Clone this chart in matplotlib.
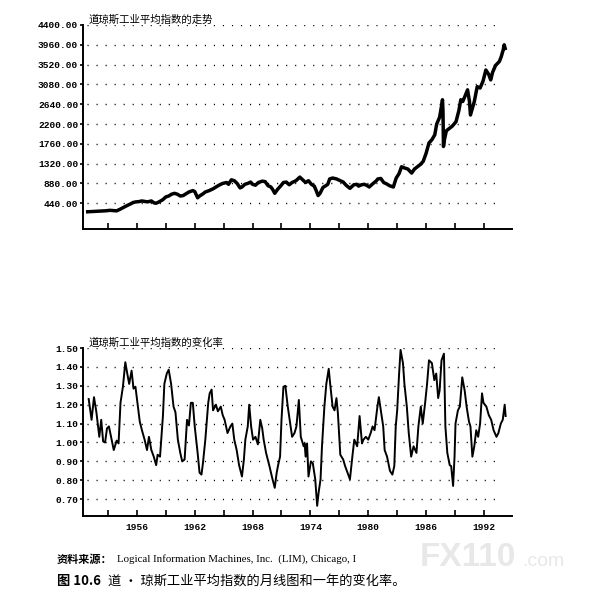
import matplotlib.pyplot as plt

# fonts: CJK first, DejaVu as fallback
plt.rcParams['font.family'] = ['Noto Sans CJK SC', 'DejaVu Sans']

# data - Dow Jones Industrial Average
dji_years = [1950.9, 1951.3, 1951.8, 1952.3, 1952.8, 1953.2, 1953.6, 1953.9, 1954.2, 1954.6,
             1955.0, 1955.3, 1955.6, 1955.9, 1956.2, 1956.5, 1956.8, 1957.1, 1957.5, 1957.8,
             1958.0, 1958.3, 1958.7, 1959.0, 1959.3, 1959.6, 1959.9, 1960.2, 1960.5, 1960.8,
             1961.1, 1961.4, 1961.8, 1962.0, 1962.3, 1962.5, 1962.8, 1963.1, 1963.5, 1963.9,
             1964.2, 1964.6, 1964.9, 1965.3, 1965.5, 1965.8, 1966.1, 1966.4, 1966.7, 1966.9,
             1967.2, 1967.5, 1967.8, 1968.0, 1968.3, 1968.6, 1969.0, 1969.3, 1969.6, 1969.9,
             1970.1, 1970.3, 1970.6, 1970.9, 1971.2, 1971.5, 1971.8, 1972.1, 1972.5, 1972.9,
             1973.2, 1973.5, 1973.8, 1974.1, 1974.4, 1974.6, 1974.8, 1975.0, 1975.3, 1975.6,
             1975.8, 1976.0, 1976.3, 1976.7, 1977.0, 1977.4, 1977.7, 1978.1, 1978.5, 1978.8,
             1979.0, 1979.3, 1979.6, 1979.9, 1980.1, 1980.4, 1980.8, 1981.0, 1981.3, 1981.6,
             1981.9, 1982.2, 1982.6, 1982.9, 1983.2, 1983.45, 1983.8, 1984.1, 1984.5, 1984.8,
             1985.1, 1985.4, 1985.7, 1986.0, 1986.3, 1986.6, 1986.9, 1987.1, 1987.4, 1987.6,
             1987.7, 1987.75, 1987.8, 1987.9, 1988.1, 1988.4, 1988.7, 1988.9, 1989.1, 1989.4,
             1989.6, 1989.8, 1990.0, 1990.3, 1990.5, 1990.6, 1990.8, 1991.0, 1991.3, 1991.6,
             1991.9, 1992.2, 1992.5, 1992.7, 1992.9, 1993.2, 1993.6, 1993.8, 1994.0, 1994.1,
             1994.2]
dji_values = [250, 255, 262, 268, 272, 282, 274, 270, 300, 345,
              390, 420, 455, 470, 475, 490, 480, 470, 490, 445,
              440, 470, 520, 580, 600, 640, 660, 640, 600, 610,
              650, 690, 720, 700, 560, 600, 640, 690, 720, 760,
              800, 850, 880, 900, 860, 960, 940, 880, 780, 800,
              860, 880, 910, 860, 840, 900, 930, 920, 830, 800,
              740, 660, 750, 820, 900, 910, 850, 900, 940, 1020,
              960, 900, 940, 860, 820, 720, 610, 660, 790, 830,
              860, 980, 1000, 980, 950, 910, 840, 770, 850, 860,
              820, 850, 860, 830, 800, 860, 930, 980, 990, 900,
              870, 830, 800, 1000, 1100, 1250, 1220, 1200, 1110, 1200,
              1250, 1300, 1370, 1550, 1780, 1850, 1960, 2200, 2350, 2600,
              2740, 2500, 1700, 1850, 2050, 2100, 2150, 2200, 2250, 2500,
              2740, 2700, 2800, 2960, 2700, 2400, 2550, 2700, 3030, 3000,
              3150, 3400, 3300, 3180, 3350, 3500, 3590, 3700, 3850, 3960,
              3880]

# data - one year rate of change
roc_years = [1951.0, 1951.3, 1951.55, 1951.8, 1952.1, 1952.3, 1952.5, 1952.7, 1952.9, 1953.1,
             1953.4, 1953.6, 1953.9, 1954.1, 1954.3, 1954.55, 1954.8, 1955.0, 1955.2, 1955.45,
             1955.65, 1955.85, 1956.1, 1956.3, 1956.55, 1956.8, 1957.05, 1957.25, 1957.5, 1957.75,
             1958.0, 1958.15, 1958.4, 1958.7, 1958.85, 1959.1, 1959.3, 1959.55, 1959.8, 1960.0,
             1960.25, 1960.5, 1960.7, 1960.95, 1961.2, 1961.4, 1961.6, 1961.8, 1962.0, 1962.3,
             1962.5, 1962.7, 1962.85, 1963.1, 1963.4, 1963.55, 1963.75, 1963.9, 1964.2, 1964.4,
             1964.7, 1964.9, 1965.1, 1965.4, 1965.7, 1965.9, 1966.1, 1966.35, 1966.6, 1966.9,
             1967.1, 1967.25, 1967.5, 1967.65, 1967.85, 1968.05, 1968.3, 1968.55, 1968.8, 1969.0,
             1969.15, 1969.4, 1969.75, 1970.0, 1970.3, 1970.5, 1970.65, 1970.85, 1971.0, 1971.2,
             1971.4, 1971.65, 1971.85, 1972.1, 1972.35, 1972.55, 1972.8, 1973.0, 1973.3, 1973.4,
             1973.5, 1973.65, 1973.8, 1974.05, 1974.25, 1974.5, 1974.7, 1974.85, 1975.05, 1975.2,
             1975.45, 1975.65, 1975.9, 1976.05, 1976.3, 1976.5, 1976.7, 1976.85, 1977.1, 1977.4,
             1977.6, 1977.85, 1978.1, 1978.35, 1978.55, 1978.85, 1979.1, 1979.35, 1979.5, 1979.75,
             1980.0, 1980.25, 1980.45, 1980.65, 1980.95, 1981.1, 1981.35, 1981.55, 1981.7, 1981.95,
             1982.25, 1982.5, 1982.7, 1982.85, 1983.0, 1983.2, 1983.35, 1983.6, 1983.75, 1984.0,
             1984.2, 1984.45, 1984.7, 1985.0, 1985.2, 1985.45, 1985.65, 1985.9, 1986.1, 1986.3,
             1986.6, 1986.85, 1987.05, 1987.25, 1987.4, 1987.6, 1987.85, 1988.0, 1988.2, 1988.45,
             1988.6, 1988.8, 1988.95, 1989.05, 1989.3, 1989.5, 1989.75, 1990.0, 1990.2, 1990.45,
             1990.6, 1990.8, 1991.0, 1991.2, 1991.4, 1991.6, 1991.8, 1991.95, 1992.25, 1992.5,
             1992.75, 1993.0, 1993.3, 1993.5, 1993.75, 1993.95, 1994.15, 1994.25]
roc_values = [1.23, 1.12, 1.24, 1.16, 1.03, 1.12, 1.005, 1.00, 1.075, 1.085,
              1.01, 0.96, 1.01, 0.995, 1.21, 1.295, 1.425, 1.365, 1.31, 1.38,
              1.285, 1.295, 1.19, 1.11, 1.06, 1.015, 0.96, 1.03, 0.96, 0.925,
              0.88, 0.935, 0.925, 1.14, 1.31, 1.365, 1.385, 1.31, 1.19, 1.16,
              1.015, 0.945, 0.90, 0.91, 1.12, 1.09, 1.21, 1.21, 1.085, 0.945,
              0.84, 0.83, 0.89, 1.015, 1.21, 1.26, 1.28, 1.17, 1.20, 1.165,
              1.19, 1.145, 1.12, 1.05, 1.085, 1.10, 1.015, 0.96, 0.88, 0.82,
              0.91, 1.015, 1.085, 1.20, 1.085, 1.015, 1.03, 0.99, 1.12, 1.075,
              1.015, 0.945, 0.875, 0.82, 0.76, 0.84, 0.88, 0.925, 1.12, 1.295,
              1.30, 1.19, 1.12, 1.03, 1.05, 1.085, 1.225, 1.03, 0.98, 0.995,
              0.925, 0.995, 0.82, 0.90, 0.89, 0.805, 0.665, 0.735, 0.805, 0.98,
              1.19, 1.31, 1.39, 1.31, 1.19, 1.17, 1.235, 1.155, 0.935, 0.91,
              0.875, 0.84, 0.805, 0.925, 1.015, 0.98, 1.14, 0.995, 1.015, 1.03,
              1.015, 1.05, 1.085, 1.065, 1.19, 1.24, 1.155, 1.085, 0.96, 0.925,
              0.85, 0.83, 0.875, 1.085, 1.17, 1.365, 1.49, 1.42, 1.31, 1.19,
              1.05, 0.925, 0.98, 0.945, 1.085, 1.19, 1.10, 1.21, 1.31, 1.435,
              1.42, 1.33, 1.365, 1.235, 1.275, 1.435, 1.47, 1.085, 0.945, 0.88,
              0.875, 0.77, 0.925, 1.10, 1.17, 1.19, 1.345, 1.275, 1.19, 1.11,
              1.085, 0.925, 0.98, 1.065, 1.03, 1.10, 1.26, 1.21, 1.19, 1.145,
              1.12, 1.065, 1.03, 1.05, 1.10, 1.12, 1.20, 1.14]

top_yticks = [440, 880, 1320, 1760, 2200, 2640, 3080, 3520, 3960, 4400]
bottom_yticks = [0.70, 0.80, 0.90, 1.00, 1.10, 1.20, 1.30, 1.40, 1.50]
year_ticks = list(range(1953, 1993, 3))
year_labels = [str(y) if y % 6 == 0 else '' for y in year_ticks]

mono = 'Liberation Mono'
dot_style = (0, (0.8, 5.7))

fig = plt.figure(figsize=(5.94, 5.99), dpi=100)


def style_axes(ax):
    for side in ['top', 'right']:
        ax.spines[side].set_visible(False)
    for side in ['left', 'bottom']:
        ax.spines[side].set_linewidth(1.4)
    ax.tick_params(axis='y', direction='out', length=2.5, width=1.2, pad=1)
    ax.tick_params(axis='x', direction='in', length=4, width=1.2, pad=5)
    ax.set_xlim(1950.41, 1994.91)


# first chart - the index
ax1 = fig.add_axes([83 / 594, 1 - 229 / 599, 429 / 594, 204 / 599])
style_axes(ax1)
ax1.plot(dji_years, dji_values, color='black', linewidth=2.5)
ax1.set_ylim(-133, 4400)
ax1.set_yticks(top_yticks)
ax1.set_yticklabels(['%.2f' % v for v in top_yticks], fontfamily=mono, fontsize=6.8, fontweight='bold')
ax1.set_xticks(year_ticks)
ax1.set_xticklabels([])
ax1.hlines(top_yticks, 1950.8, 1993.5, colors='black', linewidth=1.0, linestyles=[dot_style])
ax1.text(0.012, 1.0, '道琼斯工业平均指数的走势', transform=ax1.transAxes,
         fontsize=7.5, va='bottom', ha='left')

# second chart - rate of change
ax2 = fig.add_axes([83 / 594, 1 - 516 / 599, 429 / 594, 168 / 599])
style_axes(ax2)
ax2.plot(roc_years, roc_values, color='black', linewidth=1.4)
ax2.set_ylim(0.611, 1.50)
ax2.set_yticks(bottom_yticks)
ax2.set_yticklabels(['%.2f' % v for v in bottom_yticks], fontfamily=mono, fontsize=6.8, fontweight='bold')
ax2.set_xticks(year_ticks)
ax2.set_xticklabels(year_labels, fontfamily=mono, fontsize=6.8, fontweight='bold')
ax2.hlines(bottom_yticks, 1950.8, 1993.5, colors='black', linewidth=1.0, linestyles=[dot_style])
ax2.text(0.012, 1.0, '道琼斯工业平均指数的变化率', transform=ax2.transAxes,
         fontsize=7.5, va='bottom', ha='left')

# watermark
fig.text(420 / 594, 1 - 566 / 599, 'FX110', fontsize=24, fontweight='bold', color='#e8e8e8',
         family='Liberation Sans', ha='left', va='baseline')
fig.text(522 / 594, 1 - 566 / 599, '.com', fontsize=14, color='#e8e8e8',
         family='Liberation Sans', ha='left', va='baseline')

# captions
fig.text(57 / 594, 1 - 559 / 599, '资料来源：', fontsize=8, fontweight='bold', va='center', ha='left')
fig.text(117 / 594, 1 - 559 / 599, 'Logical Information Machines, Inc.  (LIM), Chicago, I',
         fontsize=7.8, family='Liberation Serif', va='center', ha='left')
fig.text(57 / 594, 1 - 581 / 599, '图 10.6', fontsize=9.5, fontweight='bold', va='center', ha='left')
fig.text(108 / 594, 1 - 581 / 599, '道 · 琼斯工业平均指数的月线图和一年的变化率。',
         fontsize=9.5, va='center', ha='left')

plt.savefig('out.png', dpi=100)
